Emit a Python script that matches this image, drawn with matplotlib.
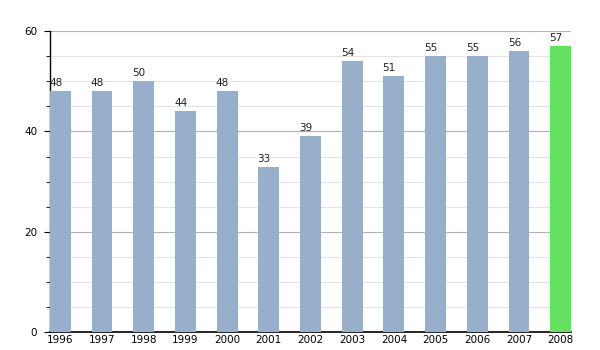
import matplotlib.pyplot as plt
from matplotlib.ticker import MultipleLocator

years = ['1996', '1997', '1998', '1999', '2000', '2001', '2002',
         '2003', '2004', '2005', '2006', '2007', '2008']
values = [48, 48, 50, 44, 48, 33, 39, 54, 51, 55, 55, 56, 57]
colors = ['#97afcb'] * 12 + ['#66e060']

fig = plt.figure(figsize=(6, 3.5), dpi=100)
ax = fig.add_axes([0.083, 0.051, 0.869, 0.86])

x = list(range(len(years)))
ax.bar(x, values, width=0.5, color=colors, zorder=3)

# value labels sit just above each bar, starting near its left edge
for i, v in enumerate(values):
    ax.text(i - 0.27, v + 0.6, str(v), ha='left', va='bottom',
            fontsize=7.5, color='#222222', zorder=4)

ax.set_xlim(-0.25, 12.25)
ax.set_ylim(0, 60)
ax.yaxis.set_major_locator(MultipleLocator(20))
ax.yaxis.set_minor_locator(MultipleLocator(5))
ax.grid(which='major', axis='y', color='#b0b0b0', linewidth=0.8, zorder=0)
ax.grid(which='minor', axis='y', color='#e4e4e4', linewidth=0.8, zorder=0)

ax.set_xticks(x)
ax.set_xticklabels(years)
ax.tick_params(axis='x', length=0, labelsize=7.5, pad=2)
ax.tick_params(axis='y', which='major', length=4, labelsize=7.5, pad=5)
ax.tick_params(axis='y', which='minor', length=3)

for s in ('top', 'right'):
    ax.spines[s].set_visible(False)
ax.spines['left'].set_linewidth(1)
ax.spines['bottom'].set_linewidth(1.2)

fig.savefig('out.png')
